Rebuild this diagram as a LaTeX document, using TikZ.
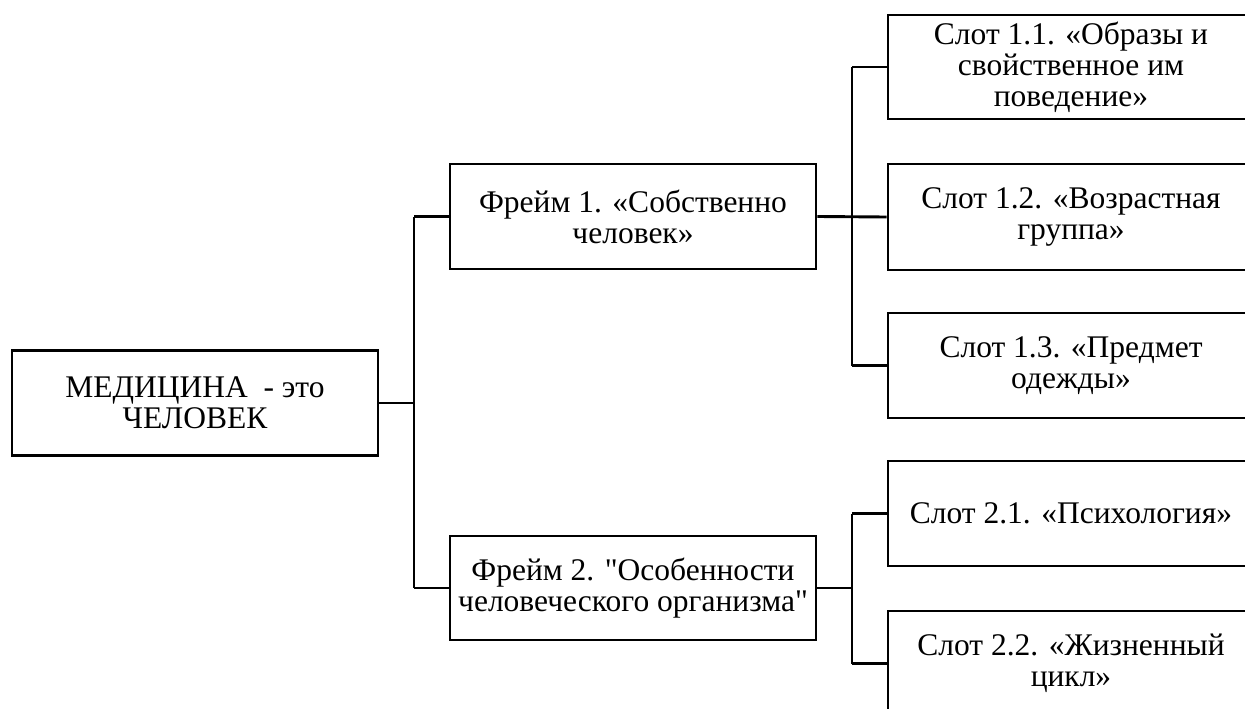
\documentclass[tikz,border=0pt]{standalone}
\usepackage{fontspec}
\setmainfont{Liberation Serif}
\begin{document}
\begin{tikzpicture}[x=1pt,y=-1pt,
  box/.style={draw=black,line width=2.9pt,fill=white,minimum width=366pt,minimum height=105pt,inner sep=0pt,align=center,font=\fontsize{31.5pt}{31pt}\selectfont},
  conn/.style={draw=black,line width=2.9pt}]
\useasboundingbox (0,0) rectangle (1245,709);
\fill[white] (0,0) rectangle (1245,709);
% nodes
\node[box] (root) at (195,403) {МЕДИЦИНА\hspace{0.5em}- это\\ЧЕЛОВЕК};
\node[box] (f1) at (633,216.5) {Фрейм 1. «Собственно\\человек»};
\node[box,minimum height=104pt] (f2) at (633,588) {Фрейм 2. \textquotedbl Особенности\\человеческого организма\textquotedbl};
\node[box,minimum height=104pt] (s11) at (1071,67) {Слот 1.1. «Образы и\\свойственное им\\поведение»};
\node[box,minimum height=106pt] (s12) at (1071,217) {Слот 1.2. «Возрастная\\группа»};
\node[box] (s13) at (1071,365.5) {Слот 1.3. «Предмет\\одежды»};
\node[box] (s21) at (1071,513.5) {Слот 2.1. «Психология»};
\node[box] (s22) at (1071,663.5) {Слот 2.2. «Жизненный\\цикл»};
% junctions
\coordinate (j0) at (414,403);
\coordinate (j0t) at (414,216.5);
\coordinate (j0b) at (414,588);
\coordinate (j1) at (852,216.5);
\coordinate (j1t) at (852,67);
\coordinate (j1b) at (852,365.5);
\coordinate (j2) at (852,588);
\coordinate (j2t) at (852,513.5);
\coordinate (j2b) at (852,663.5);
% connectors
\draw[conn] (root.east) -- (j0);
\draw[conn] (j0t) -- (j0b);
\draw[conn] (j0t) -- (f1.west);
\draw[conn] (j0b) -- (f2.west);
\draw[conn] (f1.east) -- (s12.west);
\draw[conn] (j1t) -- (j1b);
\draw[conn] (j1t) -- (s11.west);
\draw[conn] (j1b) -- (s13.west);
\draw[conn] (f2.east) -- (j2);
\draw[conn] (j2t) -- (j2b);
\draw[conn] (j2t) -- (s21.west);
\draw[conn] (j2b) -- (s22.west);
\end{tikzpicture}
\end{document}
